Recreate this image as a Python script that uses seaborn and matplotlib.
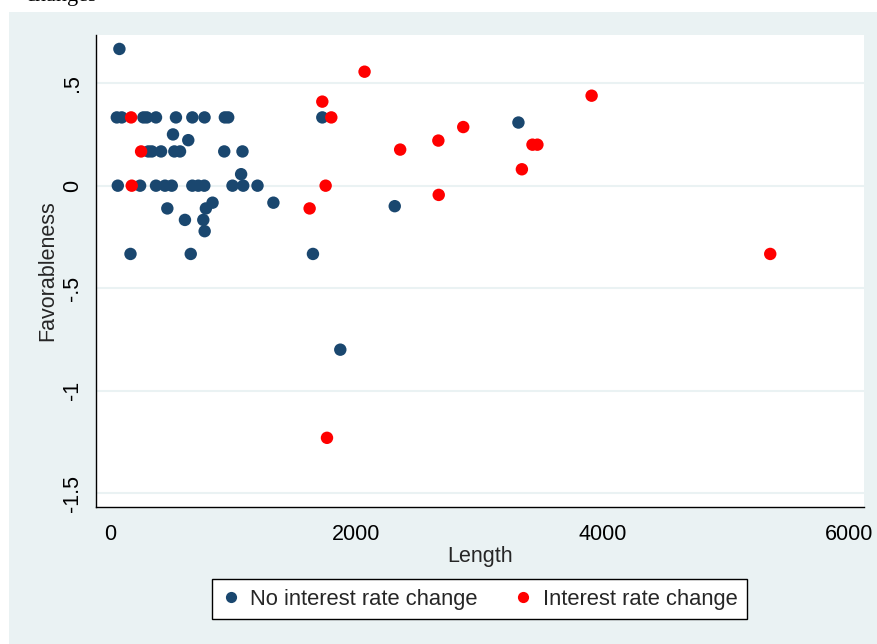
import numpy as np
import pandas as pd
import matplotlib
matplotlib.use("Agg")
import matplotlib.pyplot as plt
from matplotlib.patches import Rectangle
import seaborn as sns

# ---- data ----
no_change_x = [75,
               54, 94, 270, 297, 372, 534, 667, 766, 931, 958, 1722,
               3314,
               510, 634,
               310, 338, 413, 521, 567, 926, 1074,
               1063,
               62, 243, 372, 445, 500, 667, 715, 764, 993, 1080, 1196,
               831, 1325, 464, 777, 2310, 607, 756, 767,
               165, 654, 1646, 1868]
no_change_y = [0.667,
               0.333, 0.333, 0.333, 0.333, 0.333, 0.333, 0.333, 0.333, 0.333, 0.333, 0.333,
               0.308,
               0.25, 0.222,
               0.167, 0.167, 0.167, 0.167, 0.167, 0.167, 0.167,
               0.056,
               0, 0, 0, 0, 0, 0, 0, 0, 0, 0, 0,
               -0.083, -0.083, -0.111, -0.111, -0.1, -0.167, -0.167, -0.222,
               -0.333, -0.333, -0.333, -0.8]

change_x = [170, 251, 175, 2065, 1722, 1795, 2354, 2664, 2866, 3428, 3468,
            3342, 1749, 1619, 2667, 1760, 3908, 5358]
change_y = [0.333, 0.167, 0, 0.556, 0.41, 0.333, 0.176, 0.22, 0.286, 0.2, 0.2,
            0.08, 0, -0.111, -0.045, -1.23, 0.439, -0.333]

group_labels = ["No interest rate change", "Interest rate change"]
x_ticks = [0, 2000, 4000, 6000]
x_ticklabels = ["0", "2000", "4000", "6000"]
y_ticks = [-1.5, -1, -0.5, 0, 0.5]
y_ticklabels = ["-1.5", "-1", "-.5", "0", ".5"]

df = pd.DataFrame({
    "Length": no_change_x + change_x,
    "Favorableness": no_change_y + change_y,
    "group": [group_labels[0]] * len(no_change_x) + [group_labels[1]] * len(change_x),
})

# ---- style ----
sns.set_style("white")
plt.rcParams["font.family"] = ["Liberation Sans", "DejaVu Sans"]
FS = 15.5

W, H = 877, 644
fig = plt.figure(figsize=(W / 100, H / 100), dpi=100)
fig.patch.set_facecolor("white")
bg = "#EAF2F3"
fig.patches.append(Rectangle((9 / W, 0), 1 - 9 / W, 1 - 12 / H,
                             transform=fig.transFigure, facecolor=bg,
                             edgecolor="none", zorder=-10))

# stray clipped text from the page above
fig.text(97 / W, 1 - 1.5 / H, "changes", ha="right", va="baseline",
         fontsize=16, family=["Liberation Serif", "DejaVu Serif"], color="black")

left, right = 96 / W, 863.5 / W
top, bottom = 1 - 35 / H, 1 - 506.7 / H
ax = fig.add_axes([left, bottom, right - left, top - bottom])
ax.set_zorder(1)
ax.set_facecolor("white")

palette = {group_labels[0]: "#1A476F", group_labels[1]: "#FF0000"}
sns.scatterplot(data=df, x="Length", y="Favorableness", hue="group",
                hue_order=group_labels, palette=palette, s=80,
                linewidth=0, ax=ax, zorder=3)

ax.set_xlim(-115, 6115)
ax.set_ylim(-1.566, 0.735)
ax.set_xticks(x_ticks)
ax.set_xticklabels(x_ticklabels, fontsize=FS)
ax.set_yticks(y_ticks)
ax.set_yticklabels(y_ticklabels, fontsize=FS, rotation=90, va="center")

for sp in ["top", "right"]:
    ax.spines[sp].set_visible(False)
for sp in ["left", "bottom"]:
    ax.spines[sp].set_color("black")
    ax.spines[sp].set_linewidth(1.0)

ax.tick_params(axis="both", which="major", direction="out", length=7.2,
               width=0.9, color="black", labelcolor="black")
ax.tick_params(axis="x", pad=5)
ax.tick_params(axis="y", pad=2)

ax.grid(False)
for yv in y_ticks:
    ax.axhline(yv, color=bg, lw=1.5, zorder=1)

ax.set_xlabel("Length", fontsize=FS, labelpad=1)
ax.set_ylabel("Favorableness", fontsize=FS, labelpad=3)

handles, labels = ax.get_legend_handles_labels()
ax.legend_.remove()
leg = ax.legend(handles, labels, ncol=2, loc="center",
                bbox_to_anchor=(479.5 / W, 1 - 599 / H),
                bbox_transform=fig.transFigure, frameon=True, fancybox=False,
                edgecolor="black", facecolor="white", framealpha=1,
                fontsize=15.8, handlelength=0.8, handletextpad=0.5,
                columnspacing=1.65, borderpad=0.45, markerscale=0.9)
leg.get_frame().set_linewidth(1.0)

fig.savefig("out.png", dpi=100, facecolor="white")
